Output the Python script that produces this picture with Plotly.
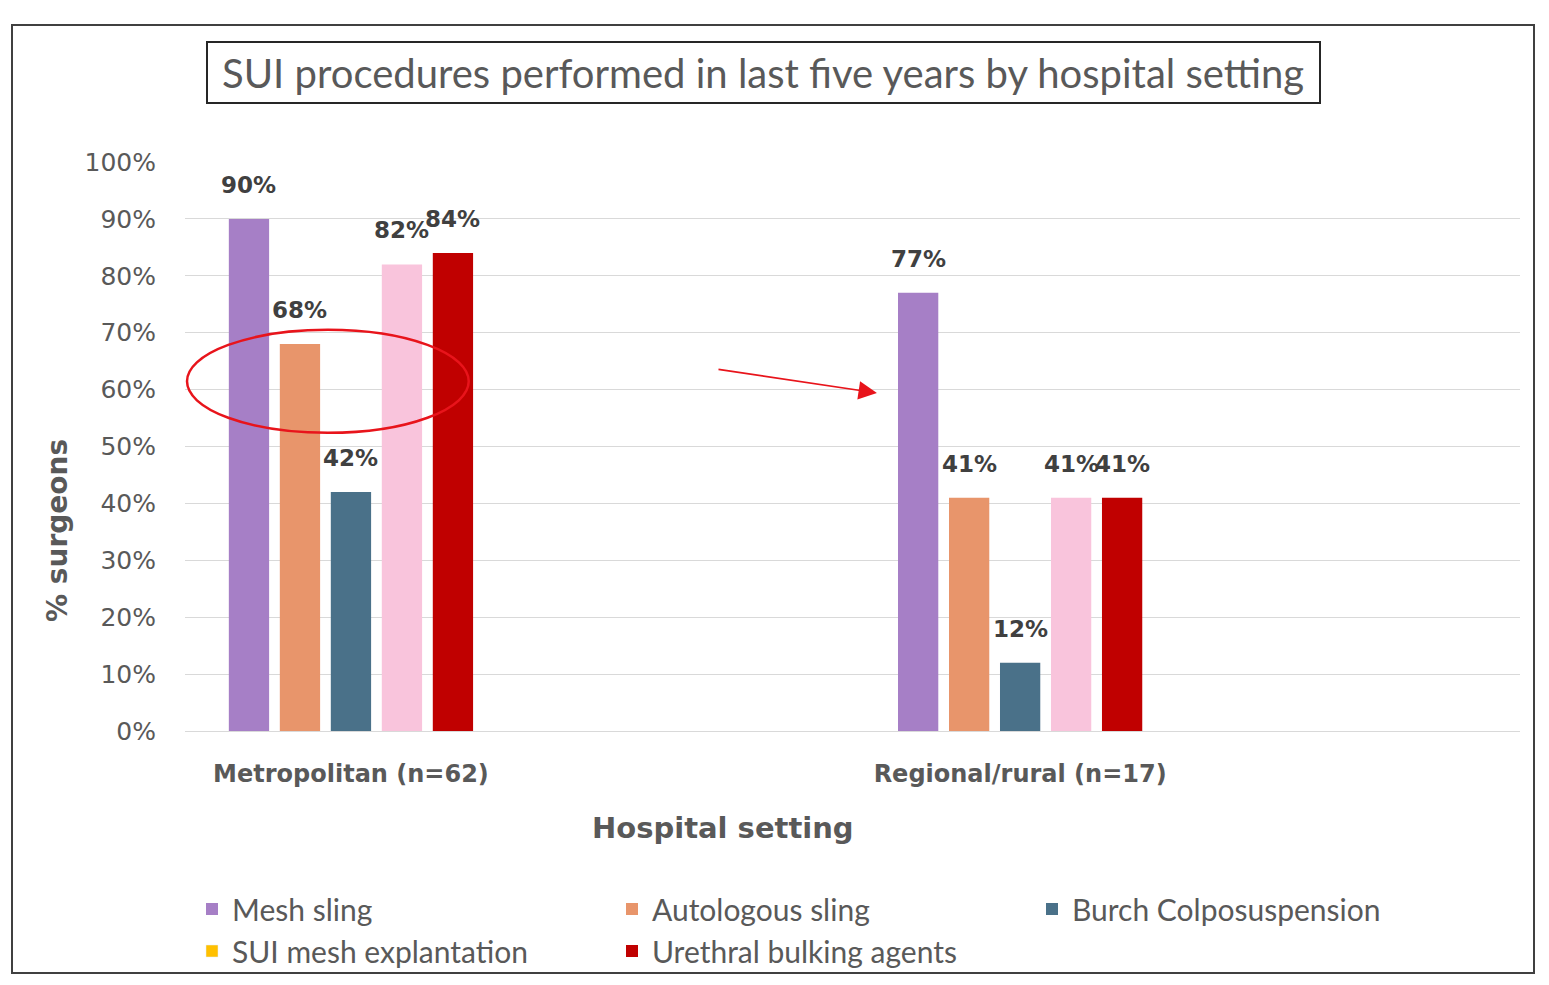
import plotly.graph_objects as go

# ---- data ----
categories = ["Metropolitan (n=62)", "Regional/rural (n=17)"]
series_names = ["Mesh sling", "Autologous sling", "Burch Colposuspension",
                "SUI mesh explantation", "Urethral bulking agents"]
mesh_sling = [0.90, 0.77]
autologous_sling = [0.68, 0.41]
burch_colposuspension = [0.42, 0.12]
sui_mesh_explantation = [0.82, 0.41]
urethral_bulking = [0.84, 0.41]
series_values = [mesh_sling, autologous_sling, burch_colposuspension,
                 sui_mesh_explantation, urethral_bulking]
y_ticks = [0, 0.1, 0.2, 0.3, 0.4, 0.5, 0.6, 0.7, 0.8, 0.9, 1.0]

bar_colors = ["#A67FC6", "#E8956B", "#4A7189", "#F9C4DC", "#C00000"]
legend_colors = ["#A67FC6", "#E8956B", "#4A7189", "#FFC000", "#C00000"]

W, H = 1549, 985
L, R, T, B = 185, 29, 162, 254
PW, PH = W - L - R, H - T - B


def px_x(p):
    return (p - L) / PW


def px_y(p):
    return (H - B - p) / PH


BARGAP = 0.619
GROUPGAP = 0.21
xpos = list(range(len(categories)))

fig = go.Figure()
for i, (name, vals) in enumerate(zip(series_names, series_values)):
    same = bar_colors[i] == legend_colors[i]
    fig.add_trace(go.Bar(
        x=xpos, y=vals, name=name, marker_color=bar_colors[i],
        marker_line_width=0, offsetgroup=str(i), legendrank=i + 1,
        showlegend=same, hoverinfo="y+name",
    ))
    if not same:
        fig.add_trace(go.Bar(
            x=[None], y=[None], name=name, marker_color=legend_colors[i],
            offsetgroup=str(i), legendrank=i + 1, showlegend=True,
        ))

# data labels above bars
slot = (1 - BARGAP) / len(series_names)
annotations = []
for i, vals in enumerate(series_values):
    for c, v in enumerate(vals):
        annotations.append(dict(
            x=c + (i - (len(series_names) - 1) / 2) * slot, y=v,
            xref="x", yref="y", text=f"{round(v*100)}%", showarrow=False,
            yanchor="middle", yshift=34,
            font=dict(family="DejaVu Sans", size=23, color="#404040", weight="bold"),
        ))

# title
annotations.append(dict(
    x=px_x(763), y=px_y(73), xref="paper", yref="paper",
    text="SUI procedures performed in last five years by hospital setting",
    showarrow=False, xanchor="center", yanchor="middle",
    font=dict(family="Lato", size=40, color="#595959"),
))
# axis titles
annotations.append(dict(
    x=px_x(57), y=px_y(531), xref="paper", yref="paper", text="% surgeons",
    textangle=-90, showarrow=False, xanchor="center", yanchor="middle",
    font=dict(family="DejaVu Sans", size=28, color="#595959", weight="bold"),
))
annotations.append(dict(
    x=px_x(723), y=px_y(828), xref="paper", yref="paper", text="Hospital setting",
    showarrow=False, xanchor="center", yanchor="middle",
    font=dict(family="DejaVu Sans", size=29, color="#595959", weight="bold"),
))
# arrow
annotations.append(dict(
    x=0.786, y=0.594, ax=0.547, ay=0.636, xref="x", yref="y", axref="x", ayref="y",
    text="", showarrow=True, arrowhead=2, arrowsize=2.3, arrowwidth=1.6,
    arrowcolor="#E8141B", standoff=0,
))

shapes = [
    # outer border
    dict(type="rect", xref="paper", yref="paper", x0=px_x(12), x1=px_x(1534),
         y0=px_y(973), y1=px_y(25), line=dict(color="#404040", width=2)),
    # title box
    dict(type="rect", xref="paper", yref="paper", x0=px_x(207), x1=px_x(1320),
         y0=px_y(103), y1=px_y(42), line=dict(color="#262626", width=2)),
    # ellipse
    dict(type="circle", xref="x", yref="y", x0=-0.245, x1=0.176, y0=0.524, y1=0.705,
         line=dict(color="#E8141B", width=2.5)),
]

fig.update_layout(
    width=W, height=H, margin=dict(l=L, r=R, t=T, b=B, autoexpand=False),
    paper_bgcolor="white", plot_bgcolor="white",
    barmode="group", bargap=BARGAP, bargroupgap=GROUPGAP,
    showlegend=True,
    legend=dict(orientation="h", x=px_x(192), y=px_y(883), xanchor="left", yanchor="top",
                entrywidth=375, entrywidthmode="pixels", tracegroupgap=0,
                font=dict(family="Lato", size=30, color="#595959"),
                bgcolor="rgba(0,0,0,0)"),
    annotations=annotations, shapes=shapes,
    xaxis=dict(range=[-0.248, 1.747], tickvals=xpos, ticktext=categories,
               showgrid=False, zeroline=False, showline=False, ticks="",
               ticklabelstandoff=26,
               tickfont=dict(family="DejaVu Sans", size=24, color="#595959", weight="bold")),
    yaxis=dict(range=[0, 1], tickvals=y_ticks, tickformat=".0%",
               showgrid=True, gridcolor="#D9D9D9", gridwidth=1,
               zeroline=True, zerolinecolor="#D9D9D9", zerolinewidth=1,
               showline=False, ticks="", ticklabelstandoff=28,
               tickfont=dict(family="DejaVu Sans", size=25, color="#595959")),
)

fig.write_html("out.html")
